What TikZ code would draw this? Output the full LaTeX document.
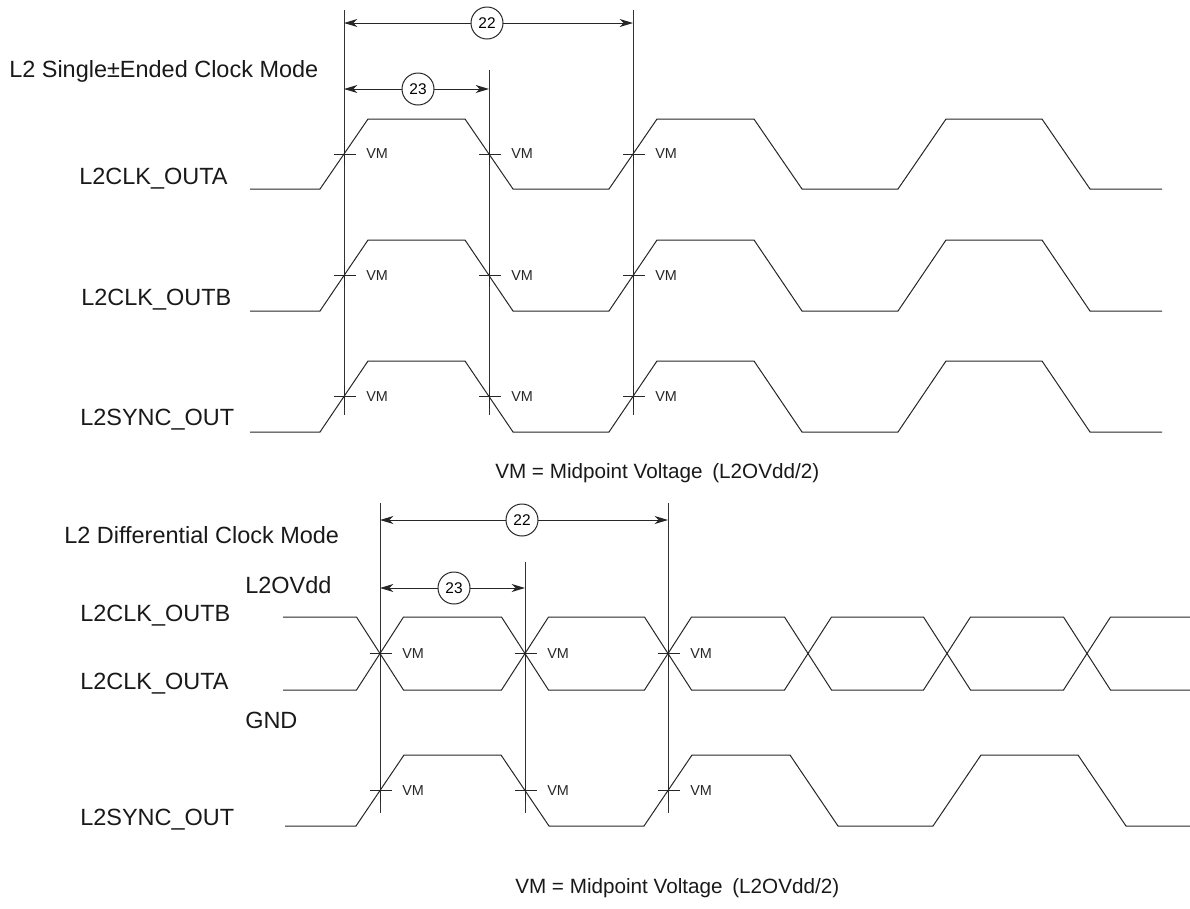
\documentclass[tikz,border=0pt]{standalone}
\usepackage{fontspec}
\setmainfont{Liberation Sans}
\usetikzlibrary{arrows.meta}

\begin{document}
\begin{tikzpicture}[x=0.75pt,y=0.75pt,yscale=-1,xscale=1,
	wave/.style={line width=0.75pt,color=black!85},
	guide/.style={line width=0.65pt,color=black!80},
	dimarrow/.style={line width=0.75pt,color=black!85,{Stealth[length=10pt,width=6pt,inset=3pt]}-{Stealth[length=10pt,width=6pt,inset=3pt]}},
	numcirc/.style={circle,draw=black!85,line width=0.75pt,fill=white,inner sep=0pt,minimum size=24pt,font=\fontsize{11.6}{13}\selectfont},
	siglabel/.style={anchor=base west,inner sep=0pt,text=black!90,font=\fontsize{17.6}{21}\selectfont},
	vmlabel/.style={anchor=west,inner sep=0pt,text=black!85,font=\fontsize{10.8}{13}\selectfont},
	note/.style={anchor=base west,inner sep=0pt,text=black!90,font=\fontsize{15.5}{18}\selectfont}]
	\useasboundingbox (0,0) rectangle (1190,908);
	
	% Single-ended mode: reference lines
	\coordinate (sTop1) at (344,10);  \coordinate (sBot1) at (344,415);
	\coordinate (sTop2) at (489,70);  \coordinate (sBot2) at (489,415);
	\coordinate (sTop3) at (633,10);  \coordinate (sBot3) at (633,415);
	\draw[guide] (sTop1) -- (sBot1);
	\draw[guide] (sTop2) -- (sBot2);
	\draw[guide] (sTop3) -- (sBot3);
	
	% Single-ended mode: dimension arrows
	\coordinate (sPerL) at (344,23);  \coordinate (sPerR) at (633,23);
	\coordinate (sHalfL) at (344,89); \coordinate (sHalfR) at (489,89);
	\draw[dimarrow] (sPerL) -- (sPerR);
	\draw[dimarrow] (sHalfL) -- (sHalfR);
	\node[numcirc] (sNum22) at (487,23) {22};
	\node[numcirc] (sNum23) at (418,89) {23};
	
	% Single-ended mode: waveforms
	\draw[wave] (250,189) -- (320,189) -- (368,119) -- (465,119) -- (513,189) -- (609,189) -- (657,119) -- (754,119) -- (802,189) -- (898,189) -- (946,119) -- (1042,119) -- (1090,189) -- (1162,189);
	\draw[wave] (250,311) -- (320,311) -- (368,240) -- (465,240) -- (513,311) -- (609,311) -- (657,240) -- (754,240) -- (802,311) -- (898,311) -- (946,240) -- (1042,240) -- (1090,311) -- (1162,311);
	\draw[wave] (250,432) -- (320,432) -- (368,361) -- (465,361) -- (513,432) -- (609,432) -- (657,361) -- (754,361) -- (802,432) -- (898,432) -- (946,361) -- (1042,361) -- (1090,432) -- (1162,432);
	
	% Differential mode: reference lines
	\coordinate (dTop1) at (380,503); \coordinate (dBot1) at (380,813);
	\coordinate (dTop2) at (525,562); \coordinate (dBot2) at (525,813);
	\coordinate (dTop3) at (668,503); \coordinate (dBot3) at (668,813);
	\draw[guide] (dTop1) -- (dBot1);
	\draw[guide] (dTop2) -- (dBot2);
	\draw[guide] (dTop3) -- (dBot3);
	
	% Differential mode: dimension arrows
	\coordinate (dPerL) at (380,520);  \coordinate (dPerR) at (668,520);
	\coordinate (dHalfL) at (380,588); \coordinate (dHalfR) at (525,588);
	\draw[dimarrow] (dPerL) -- (dPerR);
	\draw[dimarrow] (dHalfL) -- (dHalfR);
	\node[numcirc] (dNum22) at (522,520) {22};
	\node[numcirc] (dNum23) at (454,588) {23};
	
	% Differential mode: waveforms
	\draw[wave] (283,617) -- (356.5,617) -- (403.5,690) -- (501.5,690) -- (548.5,617) -- (644.5,617) -- (691.5,690) -- (784.5,690) -- (831.5,617) -- (923.5,617) -- (970.5,690) -- (1063.5,690) -- (1110.5,617) -- (1190,617);
	\draw[wave] (283,690) -- (356.5,690) -- (403.5,617) -- (501.5,617) -- (548.5,690) -- (644.5,690) -- (691.5,617) -- (784.5,617) -- (831.5,690) -- (923.5,690) -- (970.5,617) -- (1063.5,617) -- (1110.5,690) -- (1190,690);
	\draw[wave] (285,826) -- (356,826) -- (404,755) -- (501,755) -- (549,826) -- (644,826) -- (692,755) -- (790,755) -- (838,826) -- (933,826) -- (981,755) -- (1078,755) -- (1126,826) -- (1190,826);
	
	% VM marks
	\foreach \x/\y [count=\i] in {344/154,489/154,633/154,344/275.5,489/275.5,633/275.5,344/396.5,489/396.5,633/396.5,380/653.5,525/653.5,668/653.5,380/790.5,525/790.5,668/790.5}{
		\coordinate (vm\i) at (\x,\y);
		\draw[wave] (vm\i) +(-10,0) -- +(12,0) (vm\i) +(0,-11) -- +(0,11);
		\path (vm\i) ++(22,0) node[vmlabel] (vmText\i) {VM};
	}
	
	% Text Nodes
	\node[siglabel] (sTitle) at (9,77) {L2 Single±Ended Clock Mode};
	\node[siglabel] (sOutA) at (79,184) {L2CLK\_OUTA};
	\node[siglabel] (sOutB) at (81,305) {L2CLK\_OUTB};
	\node[siglabel] (sSync) at (80,425) {L2SYNC\_OUT};
	\node[note] (sNote) at (495,478) {VM = Midpoint Voltage\hspace{3pt} (L2OVdd/2)};
	\node[siglabel] (dTitle) at (64,543) {L2 Differential Clock Mode};
	\node[siglabel] (dVdd) at (245,593) {L2OVdd};
	\node[siglabel] (dOutB) at (80,621) {L2CLK\_OUTB};
	\node[siglabel] (dOutA) at (80,689) {L2CLK\_OUTA};
	\node[siglabel] (dGnd) at (245,728) {GND};
	\node[siglabel] (dSync) at (80,825) {L2SYNC\_OUT};
	\node[note] (dNote) at (515,893) {VM = Midpoint Voltage\hspace{3pt} (L2OVdd/2)};
	
\end{tikzpicture}
\end{document}
